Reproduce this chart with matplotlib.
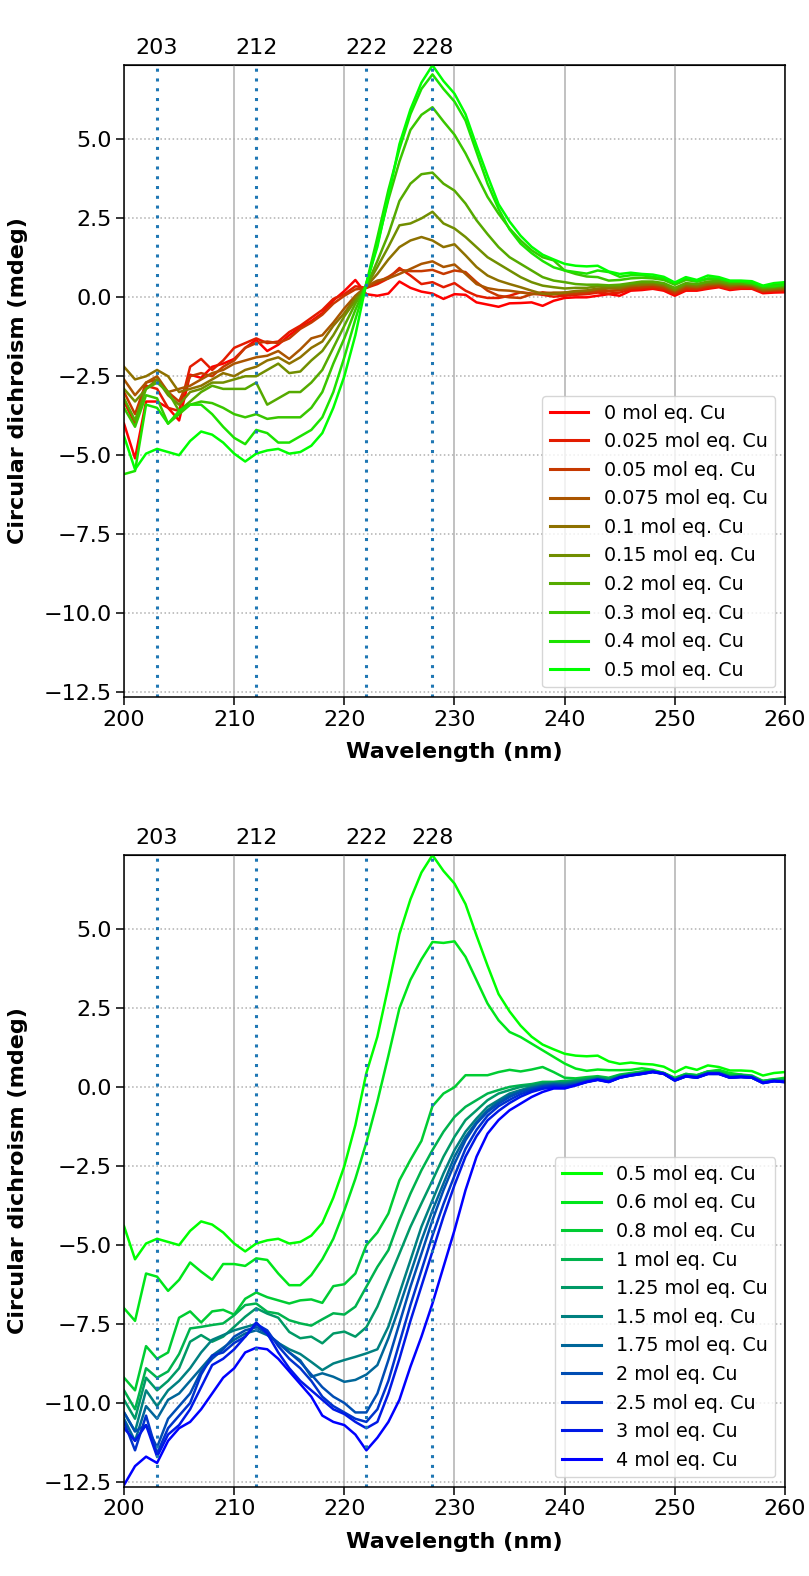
import matplotlib.pyplot as plt

# CD spectra of a peptide titrated with Cu(II), 200-260 nm in 1 nm steps
wavelength = list(range(200, 261))
marker_nm = [203, 212, 222, 228]

low_eq = ["0", "0.025", "0.05", "0.075", "0.1", "0.15", "0.2", "0.3", "0.4", "0.5"]
high_eq = ["0.5", "0.6", "0.8", "1", "1.25", "1.5", "1.75", "2", "2.5", "3", "4"]

cd_0 = [-4.0, -5.1, -3.3, -3.3, -3.5, -3.9, -2.45, -2.55, -2.2, -2.1,
        -1.95, -1.6, -1.35, -1.7, -1.5, -1.2, -0.95, -0.75, -0.5, -0.1,
        0.2, 0.55, 0.1, 0.05, 0.12, 0.5, 0.3, 0.18, 0.12, -0.05,
        0.1, 0.08, -0.16, -0.23, -0.3, -0.19, -0.18, -0.16, -0.27, -0.11,
        -0.02, 0.0, 0.0, 0.05, 0.1, 0.05, 0.21, 0.23, 0.27, 0.21,
        0.05, 0.21, 0.21, 0.27, 0.32, 0.23, 0.27, 0.27, 0.13, 0.15, 0.16]
cd_0025 = [-3.3, -4.0, -2.8, -2.9, -3.5, -3.6, -2.2, -1.95, -2.3, -2.0,
           -1.6, -1.45, -1.3, -1.45, -1.4, -1.1, -0.9, -0.65, -0.4, -0.05,
           0.1, 0.35, 0.3, 0.42, 0.6, 0.93, 0.69, 0.42, 0.48, 0.32,
           0.45, 0.21, 0.05, -0.02, -0.02, 0.05, 0.16, 0.12, 0.08, 0.02,
           0.05, 0.08, 0.1, 0.15, 0.12, 0.15, 0.25, 0.28, 0.3, 0.25,
           0.1, 0.25, 0.25, 0.3, 0.35, 0.27, 0.3, 0.3, 0.17, 0.2, 0.2]
cd_005 = [-3.0, -3.7, -2.7, -2.6, -3.0, -3.3, -2.5, -2.4, -2.5, -2.2,
          -2.0, -1.6, -1.45, -1.4, -1.45, -1.3, -1.0, -0.8, -0.55, -0.2,
          0.05, 0.25, 0.3, 0.48, 0.65, 0.87, 0.83, 0.83, 0.87, 0.74,
          0.85, 0.8, 0.48, 0.21, 0.05, 0.0, -0.02, 0.1, 0.16, 0.12,
          0.1, 0.12, 0.15, 0.2, 0.2, 0.22, 0.3, 0.32, 0.35, 0.3,
          0.15, 0.3, 0.28, 0.35, 0.38, 0.3, 0.33, 0.32, 0.2, 0.22, 0.24]
cd_0075 = [-2.6, -3.1, -2.7, -2.5, -3.0, -2.9, -2.8, -2.6, -2.4, -2.3,
           -2.1, -2.0, -1.9, -1.85, -1.7, -1.95, -1.65, -1.3, -1.2, -0.8,
           -0.35, 0.05, 0.35, 0.53, 0.6, 0.74, 0.9, 1.06, 1.14, 0.96,
           1.04, 0.74, 0.42, 0.29, 0.23, 0.21, 0.16, 0.1, 0.12, 0.15,
           0.15, 0.18, 0.2, 0.25, 0.28, 0.27, 0.35, 0.38, 0.4, 0.35,
           0.2, 0.35, 0.32, 0.4, 0.42, 0.35, 0.38, 0.36, 0.22, 0.25, 0.27]
cd_01 = [-2.2, -2.6, -2.5, -2.3, -2.5, -3.0, -2.9, -2.8, -2.6, -2.4,
         -2.5, -2.3, -2.2, -2.0, -1.9, -2.1, -1.9, -1.6, -1.4, -0.9,
         -0.5, 0.0, 0.35, 0.74, 1.2, 1.59, 1.8, 1.91, 1.8, 1.59,
         1.68, 1.33, 0.96, 0.69, 0.53, 0.42, 0.32, 0.21, 0.11, 0.1,
         0.15, 0.2, 0.22, 0.28, 0.3, 0.3, 0.38, 0.4, 0.42, 0.38,
         0.22, 0.38, 0.35, 0.42, 0.45, 0.38, 0.4, 0.38, 0.25, 0.27, 0.3]
cd_015 = [-2.9, -3.3, -2.9, -2.6, -3.1, -3.4, -3.0, -2.9, -2.7, -2.7,
          -2.6, -2.5, -2.5, -2.3, -2.1, -2.4, -2.35, -2.0, -1.7, -1.2,
          -0.6, -0.1, 0.35, 0.96, 1.6, 2.28, 2.34, 2.5, 2.71, 2.34,
          2.18, 1.91, 1.59, 1.27, 1.06, 0.85, 0.64, 0.48, 0.37, 0.32,
          0.28, 0.3, 0.3, 0.35, 0.35, 0.35, 0.42, 0.45, 0.47, 0.42,
          0.25, 0.42, 0.4, 0.47, 0.48, 0.42, 0.43, 0.4, 0.28, 0.3, 0.33]
cd_02 = [-3.2, -3.9, -2.9, -2.7, -3.0, -3.6, -3.3, -3.0, -2.8, -2.9,
         -2.9, -2.9, -2.7, -3.4, -3.2, -3.0, -3.0, -2.7, -2.3, -1.6,
         -0.9, -0.2, 0.35, 1.15, 2.0, 3.05, 3.6, 3.9, 3.95, 3.6,
         3.38, 2.97, 2.44, 2.0, 1.59, 1.27, 1.06, 0.85, 0.64, 0.53,
         0.48, 0.42, 0.4, 0.4, 0.38, 0.4, 0.45, 0.5, 0.5, 0.45,
         0.3, 0.45, 0.42, 0.5, 0.52, 0.45, 0.45, 0.42, 0.3, 0.33, 0.36]
cd_03 = [-3.5, -4.1, -3.1, -3.2, -4.0, -3.7, -3.4, -3.3, -3.35, -3.5,
         -3.7, -3.8, -3.7, -3.85, -3.8, -3.8, -3.8, -3.5, -3.0, -2.1,
         -1.3, -0.4, 0.4, 1.7, 3.1, 4.3, 5.3, 5.78, 6.02, 5.57,
         5.15, 4.56, 3.87, 3.18, 2.65, 2.18, 1.8, 1.49, 1.27, 1.17,
         0.85, 0.74, 0.66, 0.64, 0.53, 0.55, 0.6, 0.62, 0.6, 0.55,
         0.4, 0.55, 0.5, 0.58, 0.58, 0.5, 0.5, 0.47, 0.35, 0.4, 0.42]
cd_04 = [-5.6, -5.5, -3.4, -3.5, -4.0, -3.6, -3.4, -3.4, -3.7, -4.1,
         -4.45, -4.65, -4.2, -4.3, -4.6, -4.6, -4.4, -4.2, -3.8, -3.0,
         -1.9, -0.7, 0.45, 1.9, 3.4, 4.7, 5.8, 6.6, 7.06, 6.6,
         6.2, 5.6, 4.6, 3.6, 2.8, 2.15, 1.7, 1.4, 1.15, 0.95,
         0.85, 0.8, 0.75, 0.85, 0.8, 0.65, 0.7, 0.7, 0.65, 0.6,
         0.45, 0.6, 0.5, 0.6, 0.6, 0.5, 0.5, 0.45, 0.35, 0.35, 0.4]
cd_05 = [-4.4, -5.45, -4.95, -4.8, -4.9, -5.0, -4.55, -4.25, -4.35, -4.6,
         -4.95, -5.2, -4.95, -4.85, -4.8, -4.95, -4.9, -4.7, -4.3, -3.5,
         -2.5, -1.2, 0.45, 1.6, 3.2, 4.85, 5.95, 6.8, 7.35, 6.85,
         6.45, 5.8, 4.8, 3.85, 2.95, 2.4, 1.95, 1.6, 1.35, 1.2,
         1.06, 1.0, 0.98, 1.0, 0.82, 0.74, 0.78, 0.74, 0.72, 0.65,
         0.47, 0.64, 0.55, 0.69, 0.64, 0.53, 0.53, 0.51, 0.37, 0.45, 0.48]
cd_06 = [-7.0, -7.4, -5.9, -6.0, -6.45, -6.1, -5.55, -5.84, -6.1, -5.6,
         -5.6, -5.66, -5.42, -5.47, -5.9, -6.27, -6.27, -5.95, -5.45, -4.8,
         -3.9, -2.9, -1.75, -0.45, 1.0, 2.5, 3.4, 4.05, 4.6, 4.57,
         4.62, 4.13, 3.39, 2.65, 2.12, 1.75, 1.59, 1.38, 1.17, 0.96,
         0.75, 0.59, 0.52, 0.56, 0.54, 0.54, 0.55, 0.6, 0.55, 0.45,
         0.3, 0.42, 0.38, 0.5, 0.55, 0.45, 0.4, 0.3, 0.2, 0.25, 0.3]
cd_08 = [-9.2, -9.6, -8.2, -8.6, -8.4, -7.3, -7.1, -7.45, -7.1, -7.05,
         -7.2, -6.7, -6.5, -6.65, -6.75, -6.85, -6.75, -6.72, -6.83, -6.3,
         -6.24, -5.9, -5.0, -4.6, -4.0, -2.95, -2.3, -1.7, -0.6, -0.2,
         0.0, 0.38, 0.38, 0.38, 0.48, 0.55, 0.5, 0.56, 0.64, 0.48,
         0.3, 0.28, 0.32, 0.35, 0.3, 0.4, 0.45, 0.5, 0.52, 0.45,
         0.28, 0.42, 0.38, 0.5, 0.5, 0.38, 0.4, 0.37, 0.2, 0.25, 0.25]
cd_1 = [-9.6, -10.2, -8.9, -9.2, -9.0, -8.45, -7.64, -7.59, -7.53, -7.48,
        -7.22, -6.9, -6.85, -7.11, -7.17, -7.38, -7.48, -7.55, -7.35, -7.16,
        -7.2, -6.95, -6.32, -5.69, -5.16, -4.21, -3.37, -2.63, -1.99, -1.41,
        -0.94, -0.62, -0.41, -0.2, -0.09, 0.01, 0.06, 0.1, 0.17, 0.17,
        0.2, 0.22, 0.28, 0.32, 0.28, 0.38, 0.42, 0.47, 0.5, 0.45,
        0.27, 0.4, 0.36, 0.48, 0.47, 0.36, 0.38, 0.35, 0.18, 0.23, 0.22]
cd_125 = [-9.9, -10.5, -9.2, -9.6, -9.3, -8.9, -8.06, -7.85, -8.06, -7.9,
          -7.59, -7.27, -7.0, -7.17, -7.3, -7.75, -7.95, -7.9, -8.11, -7.8,
          -7.74, -7.9, -7.6, -6.95, -6.11, -5.27, -4.42, -3.68, -2.95, -2.2,
          -1.57, -1.04, -0.73, -0.41, -0.2, -0.09, 0.01, 0.06, 0.12, 0.14,
          0.15, 0.2, 0.25, 0.3, 0.25, 0.35, 0.4, 0.45, 0.5, 0.44,
          0.25, 0.38, 0.34, 0.46, 0.46, 0.34, 0.36, 0.34, 0.16, 0.22, 0.2]
cd_15 = [-10.3, -10.9, -9.6, -10.1, -9.6, -9.3, -8.9, -8.4, -8.0, -7.85,
         -7.7, -7.6, -7.5, -7.8, -8.1, -8.3, -8.45, -8.7, -8.96, -8.75,
         -8.64, -8.54, -8.43, -8.3, -7.58, -6.53, -5.48, -4.42, -3.58, -2.73,
         -1.99, -1.41, -0.99, -0.62, -0.41, -0.2, -0.09, 0.01, 0.08, 0.12,
         0.12, 0.17, 0.22, 0.28, 0.22, 0.33, 0.4, 0.44, 0.5, 0.44,
         0.24, 0.37, 0.33, 0.45, 0.45, 0.33, 0.35, 0.33, 0.15, 0.21, 0.19]
cd_175 = [-10.5, -11.2, -10.1, -10.5, -9.9, -9.7, -9.3, -8.9, -8.5, -8.25,
          -8.0, -7.8, -7.7, -7.85, -8.1, -8.4, -8.65, -9.17, -9.06, -9.17,
          -9.33, -9.27, -9.1, -8.8, -7.95, -6.95, -5.9, -4.85, -3.9, -3.05,
          -2.2, -1.57, -1.1, -0.73, -0.46, -0.25, -0.12, -0.02, 0.05, 0.1,
          0.08, 0.14, 0.2, 0.26, 0.2, 0.32, 0.39, 0.44, 0.49, 0.43,
          0.23, 0.36, 0.32, 0.44, 0.44, 0.32, 0.34, 0.32, 0.15, 0.2, 0.18]
cd_2 = [-10.3, -10.9, -10.7, -11.4, -10.5, -10.1, -9.7, -9.0, -8.6, -8.3,
        -7.9, -7.7, -7.6, -7.8, -8.1, -8.4, -8.7, -9.1, -9.5, -9.8,
        -10.0, -10.3, -10.3, -9.7, -8.64, -7.48, -6.32, -5.27, -4.21, -3.26,
        -2.42, -1.68, -1.15, -0.78, -0.52, -0.31, -0.15, -0.05, 0.03, 0.07,
        0.06, 0.1, 0.18, 0.25, 0.18, 0.31, 0.38, 0.43, 0.49, 0.43,
        0.22, 0.35, 0.31, 0.43, 0.43, 0.31, 0.33, 0.31, 0.14, 0.2, 0.17]
cd_25 = [-10.6, -11.5, -10.4, -11.6, -10.8, -10.4, -10.0, -9.1, -8.5, -8.4,
         -8.1, -7.9, -7.5, -7.7, -8.2, -8.6, -8.9, -9.3, -9.8, -10.1,
         -10.3, -10.5, -10.6, -10.2, -9.3, -8.1, -6.9, -5.8, -4.7, -3.7,
         -2.8, -1.95, -1.35, -0.9, -0.6, -0.4, -0.22, -0.1, 0.0, 0.04,
         0.03, 0.08, 0.17, 0.24, 0.17, 0.3, 0.37, 0.42, 0.48, 0.42,
         0.21, 0.34, 0.3, 0.42, 0.42, 0.3, 0.32, 0.3, 0.13, 0.19, 0.16]
cd_3 = [-10.8, -11.2, -10.7, -11.7, -11.0, -10.7, -10.2, -9.5, -8.8, -8.6,
        -8.3, -7.9, -7.45, -7.8, -8.4, -8.9, -9.3, -9.6, -9.9, -10.2,
        -10.35, -10.6, -10.8, -10.6, -9.7, -8.6, -7.4, -6.3, -5.2, -4.1,
        -3.1, -2.2, -1.55, -1.05, -0.75, -0.5, -0.3, -0.15, -0.05, 0.0,
        -0.02, 0.06, 0.16, 0.23, 0.16, 0.3, 0.37, 0.42, 0.48, 0.42,
        0.21, 0.34, 0.3, 0.42, 0.42, 0.3, 0.32, 0.3, 0.13, 0.19, 0.16]
cd_4 = [-12.6, -12.0, -11.7, -11.9, -11.2, -10.8, -10.6, -10.2, -9.7, -9.2,
        -8.9, -8.4, -8.25, -8.3, -8.6, -9.0, -9.4, -9.8, -10.4, -10.6,
        -10.7, -11.0, -11.5, -11.1, -10.6, -9.9, -8.85, -7.9, -6.85, -5.69,
        -4.53, -3.26, -2.2, -1.47, -1.04, -0.73, -0.52, -0.31, -0.15, -0.04,
        -0.04, 0.06, 0.17, 0.24, 0.17, 0.31, 0.38, 0.43, 0.49, 0.43,
        0.22, 0.35, 0.31, 0.43, 0.43, 0.31, 0.33, 0.31, 0.14, 0.2, 0.17]

low_spectra = [cd_0, cd_0025, cd_005, cd_0075, cd_01, cd_015, cd_02, cd_03, cd_04, cd_05]
high_spectra = [cd_05, cd_06, cd_08, cd_1, cd_125, cd_15, cd_175, cd_2, cd_25, cd_3, cd_4]


def draw_panel(ax, spectra, labels, colors):
    for y, lab, c in zip(spectra, labels, colors):
        ax.plot(wavelength, y, color=c, lw=1.8, label=lab + " mol eq. Cu")
    for nm in marker_nm:
        ax.axvline(nm, color="tab:blue", lw=2.2, linestyle=(0, (1, 2.2)))
    ax.set_xlim(200, 260)
    ax.set_ylim(-12.66, 7.36)
    ax.set_yticks([5.0, 2.5, 0.0, -2.5, -5.0, -7.5, -10.0, -12.5])
    ax.xaxis.grid(True, color="#b0b0b0", lw=1.1)
    ax.yaxis.grid(True, color="#b0b0b0", lw=1.1, linestyle=":")
    ax.set_axisbelow(True)
    ax.tick_params(labelsize=16, length=5.5, width=1.1)
    for sp in ax.spines.values():
        sp.set_linewidth(1.1)
    ax.set_xlabel("Wavelength (nm)", fontsize=16, fontweight="bold", labelpad=9)
    ax.set_ylabel("Circular dichroism (mdeg)", fontsize=16, fontweight="bold",
                  labelpad=11)
    top = ax.secondary_xaxis("top")
    top.set_xticks(marker_nm)
    top.set_xticklabels([str(n) for n in marker_nm])
    top.tick_params(labelsize=16, length=0, pad=5)
    leg = ax.legend(loc="lower right", fontsize=13.8, handlelength=2.0)
    for line in leg.get_lines():
        line.set_linewidth(2.2)


fig = plt.figure(figsize=(8.09, 15.76), dpi=100)
ax1 = fig.add_axes([0.1533, 0.5577, 0.817, 0.4011])
ax2 = fig.add_axes([0.1533, 0.0565, 0.817, 0.4011])

n_low = len(low_eq)
red_green = [(1 - i / (n_low - 1), i / (n_low - 1), 0) for i in range(n_low)]
n_high = len(high_eq)
green_blue = [(0, 1 - i / (n_high - 1), i / (n_high - 1)) for i in range(n_high)]

draw_panel(ax1, low_spectra, low_eq, red_green)
draw_panel(ax2, high_spectra, high_eq, green_blue)

fig.savefig("out.png", dpi=100)
